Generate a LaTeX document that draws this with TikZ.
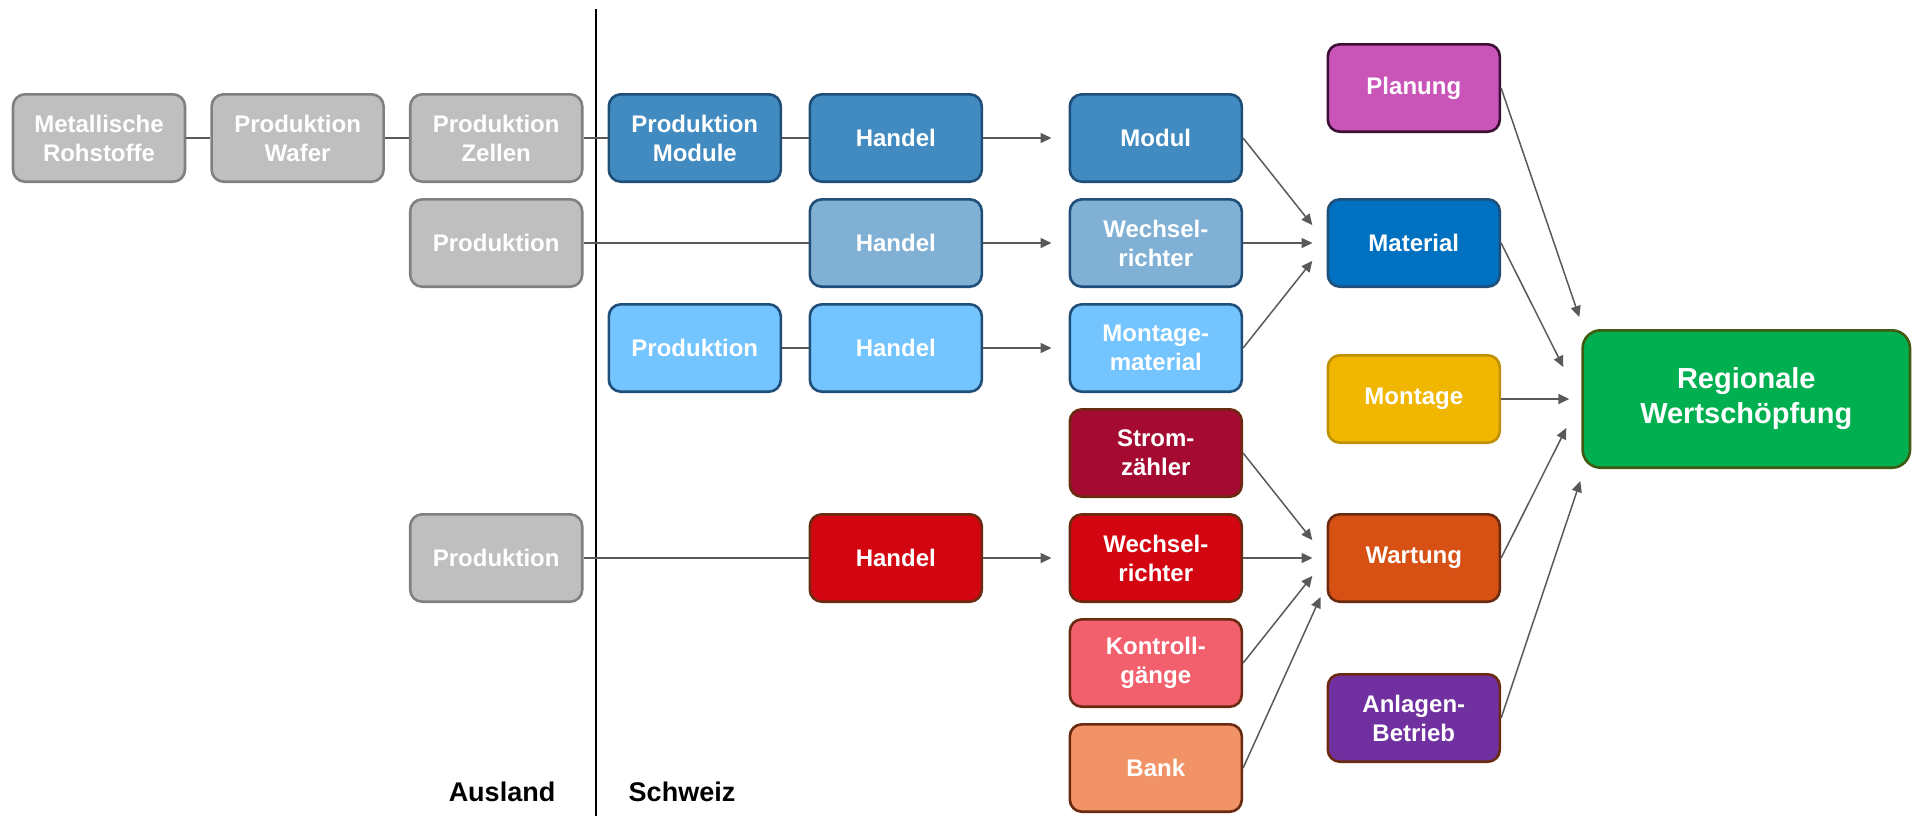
\documentclass[tikz,border=0pt]{standalone}
\usepackage{fontspec}
\setmainfont{Liberation Sans}
\usetikzlibrary{positioning}
\usetikzlibrary{arrows.meta}

\definecolor{greyfill}{HTML}{BFBFBF}
\definecolor{greyline}{HTML}{808080}
\definecolor{bluedark}{HTML}{418BC1}
\definecolor{bluemid}{HTML}{80B1D4}
\definecolor{bluesky}{HTML}{73C4FF}
\definecolor{blueline}{HTML}{1F4E79}
\definecolor{materialblue}{HTML}{0070C0}
\definecolor{planungpink}{HTML}{C955B9}
\definecolor{planungline}{HTML}{3C0F36}
\definecolor{montagegold}{HTML}{F0B600}
\definecolor{montageline}{HTML}{BF9000}
\definecolor{stromred}{HTML}{A50A32}
\definecolor{handelred}{HTML}{D20510}
\definecolor{kontrollrose}{HTML}{F2606E}
\definecolor{bankorange}{HTML}{F29267}
\definecolor{wartungorange}{HTML}{D65113}
\definecolor{anlagenpurple}{HTML}{7030A0}
\definecolor{brownline}{HTML}{6B2B10}
\definecolor{regionalgreen}{HTML}{00B050}
\definecolor{regionalline}{HTML}{3F5B12}
\definecolor{linkgrey}{HTML}{595959}

\begin{document}
\begin{tikzpicture}[
		x=0.5pt, y=-0.5pt,
		box/.style={draw, rectangle, rounded corners=6pt, line width=1.3pt, minimum width=86pt, minimum height=43.7pt, inner sep=2pt, align=center, text=white, font=\bfseries\fontsize{12}{14.5}\selectfont},
		grey/.style={box, fill=greyfill, draw=greyline},
		bluedk/.style={box, fill=bluedark, draw=blueline},
		bluelt/.style={box, fill=bluemid, draw=blueline},
		bluesk/.style={box, fill=bluesky, draw=blueline},
		redbox/.style={box, draw=brownline, fill=#1},
		target/.style={box, draw=#1},
		region/.style={font=\bfseries\fontsize{13.5}{16}\selectfont},
		link/.style={draw=linkgrey, line width=0.75pt},
		arrow/.style={link, -{Triangle[length=5.5pt, width=5pt]}},
		divider/.style={draw=black, line width=1.35pt}
		]
		\useasboundingbox (0,0) rectangle (1916,816);
		
		% Ausland
		\node[grey] (rohstoffe) at (99,138) {Metallische\\Rohstoffe};
		\node[grey, right=12pt of rohstoffe] (wafer) {Produktion\\Wafer};
		\node[grey, right=12pt of wafer] (zellen) {Produktion\\Zellen};
		\node[grey, below=7.5pt of zellen] (prodWr) {Produktion};
		
		% Schweiz, Module
		\node[bluedk, right=12pt of zellen] (prodModule) {Produktion\\Module};
		\node[bluedk, right=13.2pt of prodModule] (handelModul) {Handel};
		\node[bluedk, right=42.7pt of handelModul] (modul) {Modul};
		
		% Komponenten
		\node[bluelt, below=7.5pt of modul] (wrBlau) {Wechsel-\\richter};
		\node[bluesk, below=7.5pt of wrBlau] (montMat) {Montage-\\material};
		\node[redbox=stromred, below=7.5pt of montMat] (strom) {Strom-\\zähler};
		\node[redbox=handelred, below=7.5pt of strom] (wrRot) {Wechsel-\\richter};
		\node[redbox=kontrollrose, below=7.5pt of wrRot] (kontroll) {Kontroll-\\gänge};
		\node[redbox=bankorange, below=7.5pt of kontroll] (bank) {Bank};
		
		% Handel
		\node[bluelt, left=42.7pt of wrBlau] (handelWr) {Handel};
		\node[bluesk, left=42.7pt of montMat] (handelMont) {Handel};
		\node[bluesk, left=13.2pt of handelMont] (prodMont) {Produktion};
		\node[redbox=handelred, left=42.7pt of wrRot] (handelRot) {Handel};
		\node[grey] (prodRot) at (zellen |- wrRot) {Produktion};
		
		% Wertschoepfung
		\node[target=blueline, fill=materialblue, right=41.7pt of wrBlau] (material) {Material};
		\node[target=planungline, fill=planungpink, above=32.5pt of material] (planung) {Planung};
		\node[target=montageline, fill=montagegold, below=33pt of material] (montage) {Montage};
		\node[redbox=wartungorange, right=41.7pt of wrRot] (wartung) {Wartung};
		\node[redbox=anlagenpurple, below=35pt of wartung] (anlagen) {Anlagen-\\Betrieb};
		\node[box, fill=regionalgreen, draw=regionalline, minimum width=163.7pt, minimum height=68.7pt, rounded corners=9pt, font=\bfseries\fontsize{14.5}{17.5}\selectfont, right=40.1pt of montage] (regional) {Regionale\\Wertschöpfung};
		
		% Grenze
		\draw[divider] (596,9) -- (596,816);
		\node[region] (ausland) at (502,792) {Ausland};
		\node[region] (schweiz) at (682,792) {Schweiz};
		
		% Lines
		\draw[link] (rohstoffe) -- (wafer);
		\draw[link] (wafer) -- (zellen);
		\draw[link] (zellen) -- (prodModule);
		\draw[link] (prodModule) -- (handelModul);
		\draw[link] (prodWr) -- (handelWr);
		\draw[link] (prodMont) -- (handelMont);
		\draw[link] (prodRot) -- (handelRot);
		
		% Arrows
		\draw[arrow, shorten >=8.5pt] (handelModul) -- (modul);
		\draw[arrow, shorten >=8.5pt] (handelWr) -- (wrBlau);
		\draw[arrow, shorten >=8.5pt] (handelMont) -- (montMat);
		\draw[arrow, shorten >=8.5pt] (handelRot) -- (wrRot);
		
		\draw[arrow, shorten >=11.4pt] (modul.east) -- (material.west);
		\draw[arrow, shorten >=7pt] (wrBlau.east) -- (material.west);
		\draw[arrow, shorten >=11.4pt] (montMat.east) -- (material.west);
		
		\draw[arrow, shorten >=11.4pt] (strom.east) -- (wartung.west);
		\draw[arrow, shorten >=7pt] (wrRot.east) -- (wartung.west);
		\draw[arrow, shorten >=11.4pt] (kontroll.east) -- (wartung.west);
		\draw[arrow] (bank.east) -- ([xshift=-3pt, yshift=3pt]wartung.south west);
		
		\draw[arrow] (planung.east) -- ([xshift=-1pt, yshift=6pt]regional.north west);
		\draw[arrow] (material.east) -- ([xshift=-9pt, yshift=16pt]regional.west);
		\draw[arrow] (montage.east) -- ([xshift=-6pt]regional.west);
		\draw[arrow] (wartung.east) -- ([xshift=-7.5pt, yshift=-14.5pt]regional.west);
		\draw[arrow] (anlagen.east) -- ([xshift=-0.5pt, yshift=-6pt]regional.south west);
	\end{tikzpicture}
\end{document}
